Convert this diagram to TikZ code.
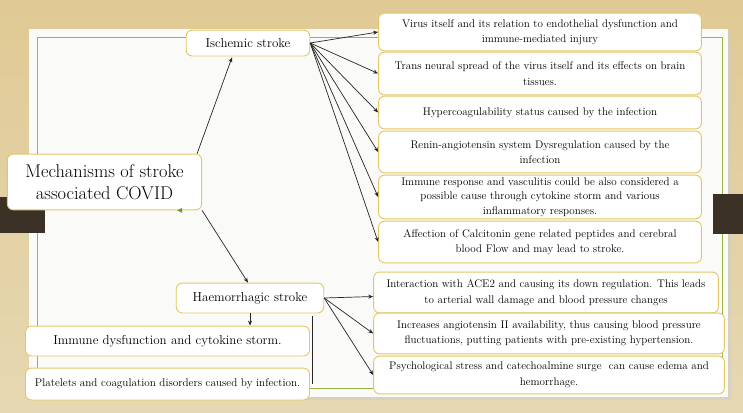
\documentclass[tikz,border=0pt]{standalone}
\usepackage{fontspec}
\usetikzlibrary{arrows.meta,calc}
\definecolor{bgtop}{HTML}{E0C994}
\definecolor{bgbot}{HTML}{E6D8B2}
\definecolor{darkbar}{HTML}{3A3026}
\definecolor{panelgreen}{HTML}{9CB443}
\definecolor{boxgold}{HTML}{E2C865}
\definecolor{paper}{HTML}{FAFAF8}
\tikzset{
  box/.style={draw=boxgold, line width=0.9bp, fill=white, rounded corners=6bp,
    inner sep=0pt, align=center, text=black},
  small/.style={font=\fontsize{11.1}{15.5}\selectfont},
  conn/.style={draw=black!85, line width=0.7bp, -{Stealth[length=5bp,width=4bp]}},
}
\begin{document}
\begin{tikzpicture}[x=1bp,y=-1bp]
\useasboundingbox (0,0) rectangle (743,412);
% background
\shade[top color=bgtop, bottom color=bgbot] (0,0) rectangle (743,412);
% panel shadow and panel
\fill[black!20, opacity=0.5] (32,32) rectangle (731,400);
\fill[paper] (29,29) rectangle (728,397);
\draw[panelgreen, line width=0.9bp] (37,37) rectangle (722,388);
% dark bars
\fill[darkbar] (0,197) rectangle (45,233);
\fill[darkbar] (713,194) rectangle (743,234);

% nodes
\node[box, minimum width=195, minimum height=56, font=\fontsize{18.5}{22}\selectfont] (main) at (104.5,182) {Mechanisms of stroke\\associated COVID};
\node[box, minimum width=124, minimum height=26, font=\fontsize{13}{15}\selectfont] (isch) at (248,43) {Ischemic stroke};
\node[box, minimum width=148, minimum height=30, font=\fontsize{13}{15}\selectfont] (haem) at (250,298) {Haemorrhagic stroke};
\node[box, minimum width=285, minimum height=30, font=\fontsize{13}{15}\selectfont] (imm) at (167.5,341) {Immune dysfunction and cytokine storm.};
\node[box, minimum width=285, minimum height=32, font=\fontsize{11.2}{15}\selectfont] (plat) at (167.5,384) {Platelets and coagulation disorders caused by infection.};

\node[box, small, minimum width=324, minimum height=38] (i1) at (540,32) {Virus itself and its relation to endothelial dysfunction and\\immune-mediated injury};
\node[box, small, minimum width=324, minimum height=43] (i2) at (540,73.5) {Trans neural spread of the virus itself and its effects on brain\\tissues.};
\node[box, small, minimum width=324, minimum height=33] (i3) at (540,112.5) {Hypercoagulability status caused by the infection};
\node[box, small, minimum width=324, minimum height=42] (i4) at (540,152) {Renin-angiotensin system Dysregulation caused by the\\infection};
\node[box, small, minimum width=324, minimum height=44, font=\fontsize{11.1}{14.5}\selectfont] (i5) at (540,197) {Immune response and vasculitis could be also considered a\\possible cause through cytokine storm and various\\inflammatory responses.};
\node[box, small, minimum width=324, minimum height=42] (i6) at (540,242) {Affection of Calcitonin gene related peptides and cerebral\\blood Flow and may lead to stroke.};

\node[box, small, minimum width=346, minimum height=41] (h1) at (546,292.5) {Interaction with ACE2 and causing its down regulation. This leads\\to arterial wall damage and blood pressure changes};
\node[box, small, minimum width=352, minimum height=41] (h2) at (549,333.5) {Increases angiotensin II availability, thus causing blood pressure\\fluctuations, putting patients with pre-existing hypertension.};
\node[box, small, minimum width=352, minimum height=38] (h3) at (549,375) {Psychological stress and catechoalmine surge\ \ can cause edema and\\hemorrhage.};

% small green arrow tip on main node edge
\coordinate (gtip) at ($(main.south east)+(-25,0)$);
\fill[panelgreen!80!black] (gtip) -- ++(5,-2.5) -- ++(0,5) -- cycle;

% connectors
\draw[conn] ($(main.north east)+(-5,0)$) -- ($(isch.south)+(-16,1)$);
\draw[conn] (main.south east) -- ($(haem.north)+(-2,0)$);
\foreach \t in {i1,i2,i3,i4,i5,i6}{\draw[conn] (isch.east) -- (\t.west);}
\draw[conn] (haem.east) -- ($(h1.west)+(0,4)$);
\draw[conn] (haem.east) -- (h2.west);
\draw[conn] (haem.east) -- (h3.west);
\draw[conn] (haem.south) -- (haem.south |- imm.north);
\coordinate (vl) at ($(haem.south east)+(-12,3)$);
\draw[black!85, line width=0.7bp] (vl) -- (vl |- plat.east);
\end{tikzpicture}
\end{document}
